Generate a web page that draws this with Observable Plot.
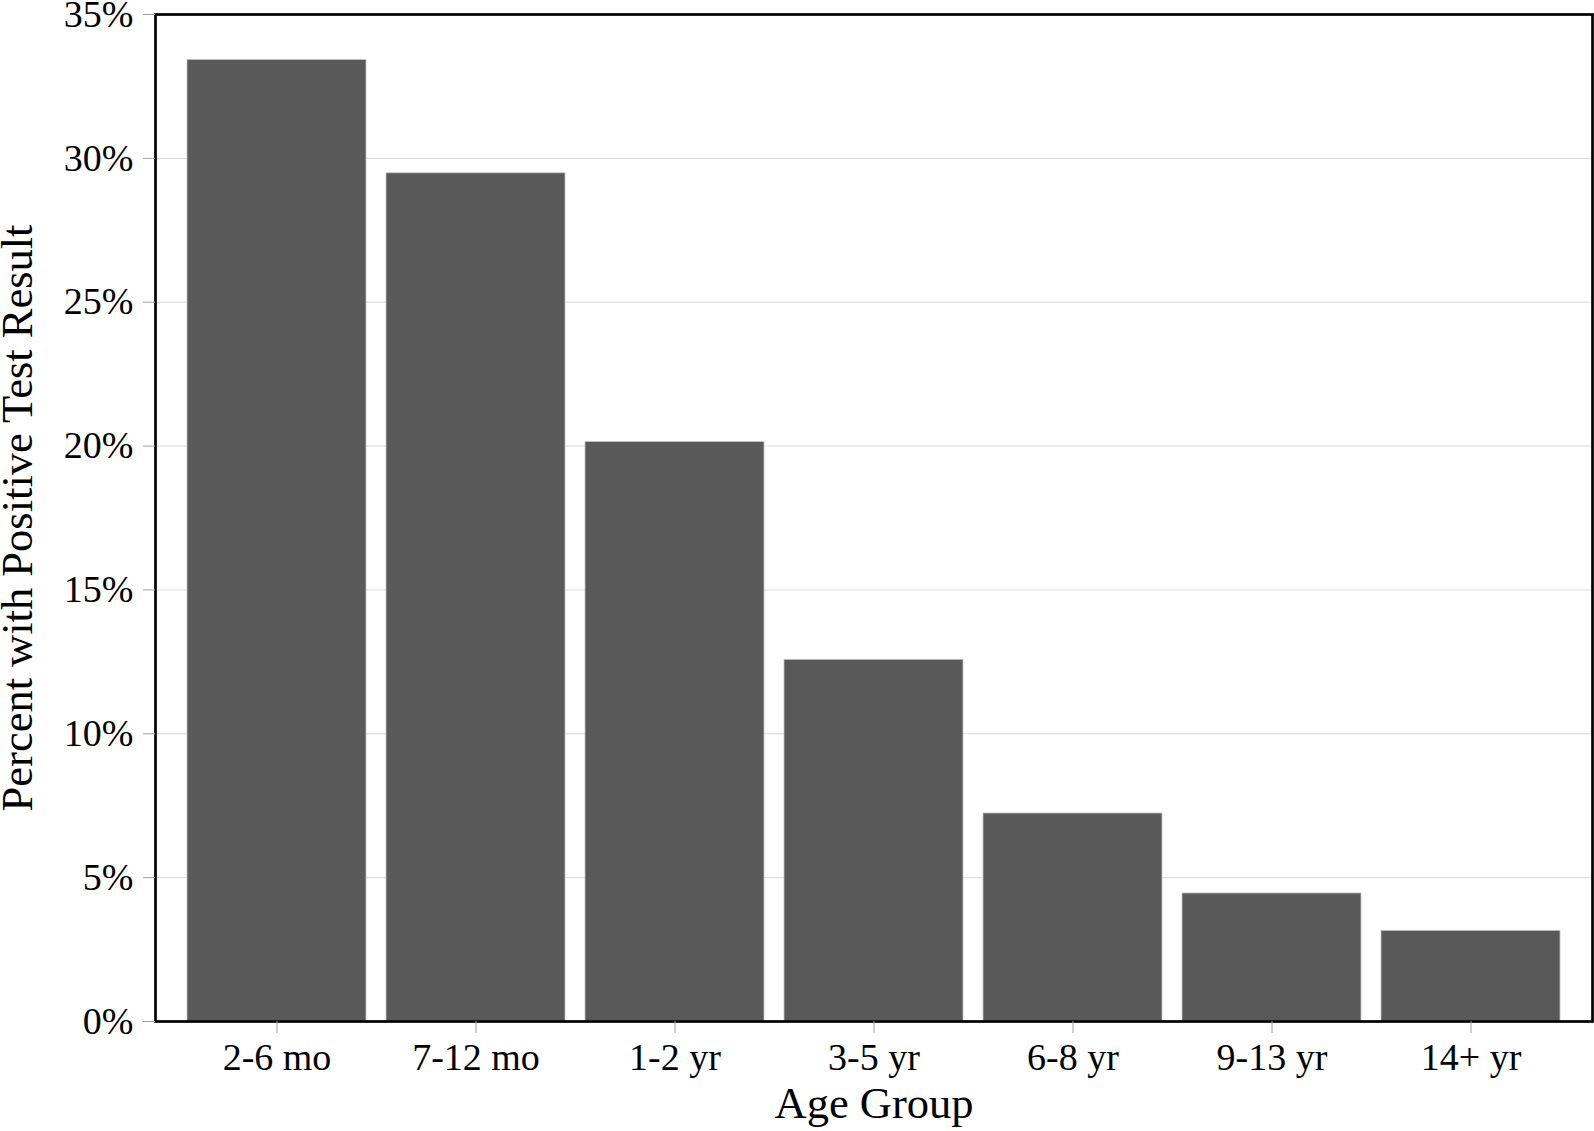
<!DOCTYPE html>
<html>
<head>
<meta charset="utf-8">
<script src="https://cdn.jsdelivr.net/npm/d3@7"></script>
<script src="https://cdn.jsdelivr.net/npm/@observablehq/plot@0.6"></script>
<style>
  html, body { margin: 0; padding: 0; background: #fff; }
  #chart svg { display: block; }
</style>
</head>
<body>
<div id="chart"></div>
<script>
const ageGroups = ["2-6 mo", "7-12 mo", "1-2 yr", "3-5 yr", "6-8 yr", "9-13 yr", "14+ yr"];
const percentPositive = [33.42, 29.48, 20.14, 12.57, 7.23, 4.45, 3.15];
const yTicks = [0, 5, 10, 15, 20, 25, 30, 35];
const xTitle = "Age Group";
const yTitle = "Percent with Positive Test Result";

const data = ageGroups.map((age, i) => ({age, pct: percentPositive[i]}));
const font = "'Liberation Serif', 'DejaVu Serif', 'Times New Roman', serif";

const chart = Plot.plot({
  width: 1594,
  height: 1131,
  marginLeft: 155,
  marginRight: 2,
  marginTop: 14,
  marginBottom: 110,
  style: {fontFamily: font, background: "white", color: "black"},
  x: {domain: ageGroups, paddingInner: 0.1, paddingOuter: 0.145, label: null},
  y: {domain: [0, 35], label: null},
  marks: [
    Plot.gridY({ticks: yTicks, stroke: "#d9d9d9", strokeOpacity: 1, strokeWidth: 1}),
    Plot.barY(data, {x: "age", y: "pct", fill: "#595959", stroke: "#c4c4c4", strokeWidth: 0.8}),
    Plot.frame({stroke: "black", strokeWidth: 2.7}),
    Plot.axisY({ticks: yTicks, tickFormat: d => d + "%", tickSize: 12, tickPadding: 10,
                fontSize: 38, stroke: "#a0a0a0", fill: "black", label: null}),
    Plot.axisX({tickSize: 12, tickPadding: 10, fontSize: 38, stroke: "#a0a0a0", fill: "black", label: null}),
    Plot.text([xTitle], {text: d => d, frameAnchor: "bottom", textAnchor: "middle", lineAnchor: "middle",
                         dy: 82, fontSize: 44.5, fill: "black"}),
    Plot.text([yTitle], {text: d => d, frameAnchor: "left", textAnchor: "middle", lineAnchor: "middle",
                         dx: -137.7, rotate: -90, fontSize: 44.5, fill: "black"})
  ]
});
document.getElementById("chart").appendChild(chart);
</script>
</body>
</html>
